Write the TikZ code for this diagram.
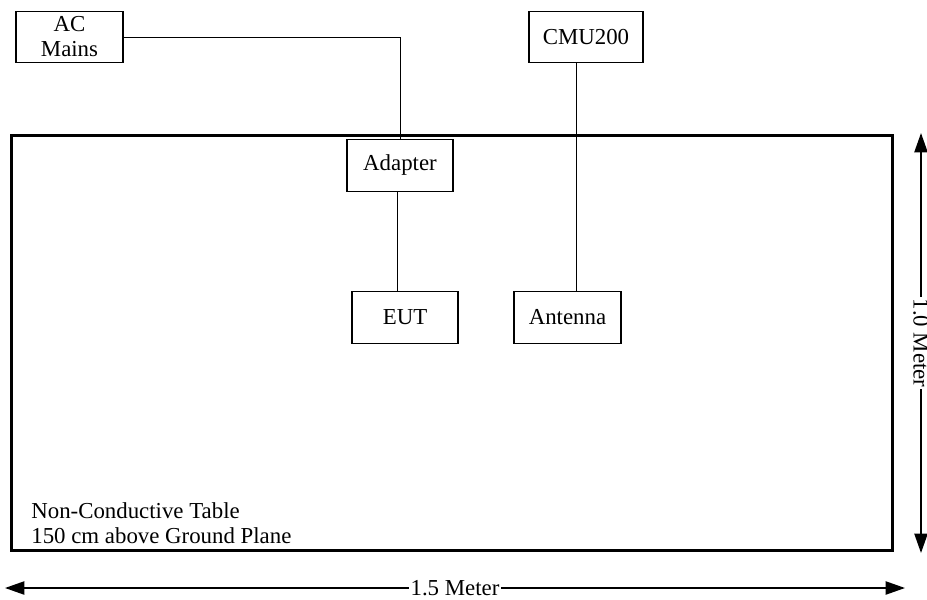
\documentclass[tikz,border=0pt]{standalone}
\usepackage{fontspec}
\setmainfont{Liberation Serif}
\usetikzlibrary{arrows.meta,positioning,calc}
\newcommand{\labelfont}{\fontsize{13pt}{14.2pt}\selectfont}
\tikzset{
  unitbox/.style={draw,line width=0.6pt,minimum height=1.03cm,inner sep=1pt,align=center,font=\labelfont},
  wire/.style={line width=0.5pt},
  dimline/.style={line width=0.9pt,{Triangle[length=11pt,width=7.5pt]}-{Triangle[length=11pt,width=7.5pt]}},
  dimtext/.style={fill=white,inner sep=1pt,font=\labelfont},
}

\begin{document}
\begin{tikzpicture}[x=0.02cm,y=-0.02cm]
    \useasboundingbox (0,0) rectangle (927,599);

    % table top
    \node[draw,line width=1.7pt,minimum width=17.64cm,minimum height=8.32cm] (table) at (452,343) {};
    \node[anchor=north west,align=left,inner sep=0pt,font=\labelfont] (tablenote) at (31,502) {Non-Conductive Table\\ 150 cm above Ground Plane};

    % units
    \node[unitbox,minimum width=2.14cm] (mains) at (69.5,37) {AC\\Mains};
    \node[unitbox,minimum width=2.28cm] (cmu) at (586,37) {CMU200};
    \node[unitbox,minimum width=2.12cm] (adapter) at (400,165.5) {Adapter};
    \node[unitbox,minimum width=2.12cm] (eut) at (405,317.5) {EUT};
    \node[unitbox,minimum width=2.14cm] (antenna) at (567.5,317.5) {Antenna};

    % cables
    \draw[wire] (mains.east) -| (adapter.north);
    \draw[wire] ([xshift=-0.06cm]adapter.south) -- ([xshift=-0.06cm]adapter.south |- eut.north);
    \draw[wire] ([xshift=-0.2cm]cmu.south) coordinate (rf) -- (rf |- antenna.north);

    % dimensions
    \coordinate (vtop) at (921,133);
    \coordinate (vbot) at (921,553);
    \draw[dimline] (vtop) -- (vbot) node[midway,dimtext,rotate=-90] {1.0 Meter};
    \coordinate (hleft) at (5,588);
    \coordinate (hright) at (905,588);
    \draw[dimline] (hleft) -- (hright) node[midway,dimtext] {1.5 Meter};
\end{tikzpicture}
\end{document}
